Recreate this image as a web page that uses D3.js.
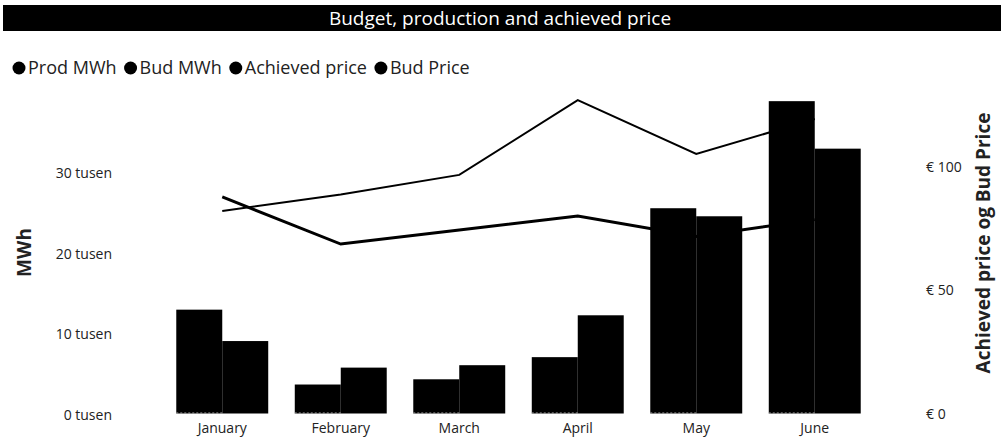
<!DOCTYPE html>
<html>
<head>
<meta charset="utf-8">
<script src="https://cdn.jsdelivr.net/npm/d3@7"></script>
<style>
  body { margin: 0; background: #fff; }
  svg text { font-family: "Segoe UI", "Open Sans", sans-serif; fill: #222; }
</style>
</head>
<body>
<div id="chart"></div>
<script>
// data
const months = ["January", "February", "March", "April", "May", "June"];
const prodMWh = [12900, 3600, 4250, 7000, 25500, 38800];
const budMWh = [9000, 5700, 6000, 12200, 24500, 32900];
const achievedPrice = [82.2, 88.9, 96.8, 127.1, 105.3, 119.4];
const budPrice = [87.9, 68.8, 74.5, 80.2, 71.9, 78.7];
const leftTicks = [0, 10000, 20000, 30000];
const rightTicks = [0, 50, 100];
const legendNames = ["Prod MWh", "Bud MWh", "Achieved price", "Bud Price"];

const width = 1001;
const height = 443;

const svg = d3.select("#chart").append("svg")
    .attr("width", width)
    .attr("height", height);

//----------------------------TITLE------------------------------//
svg.append("rect")
    .attr("x", 3).attr("y", 5)
    .attr("width", width - 3).attr("height", 26)
    .attr("fill", "#000");
svg.append("text")
    .attr("x", 500).attr("y", 18)
    .attr("dy", "0.35em")
    .attr("text-anchor", "middle")
    .style("font-size", "19px")
    .style("fill", "#fff")
    .text("Budget, production and achieved price");

//----------------------------LEGEND-----------------------------//
const legend = svg.append("g").attr("transform", "translate(0,68)");
let lx = 12;
legendNames.forEach(function(name) {
    legend.append("circle")
        .attr("cx", lx + 7).attr("cy", 0).attr("r", 6.5)
        .attr("fill", "#000");
    const t = legend.append("text")
        .attr("x", lx + 16).attr("y", 0)
        .attr("dy", "0.35em")
        .style("font-size", "18px")
        .text(name);
    lx += 16 + t.node().getComputedTextLength() + 7;
});

//----------------------------SCALES-----------------------------//
const xScale = d3.scaleBand()
    .domain(months)
    .range([163, 874])
    .paddingInner(0.224)
    .paddingOuter(0.112);
const xSub = d3.scaleBand()
    .domain(["prod", "bud"])
    .range([0, xScale.bandwidth()]);
const yLeft = d3.scaleLinear().domain([0, 40000]).range([413.5, 91.5]);
const yRight = d3.scaleLinear().domain([0, 130]).range([414, 92.9]);

//-----------------------------AXES------------------------------//
const leftAxis = svg.append("g")
    .attr("transform", "translate(112,1.5)")
    .call(d3.axisLeft(yLeft).tickValues(leftTicks).tickSize(0).tickPadding(0)
        .tickFormat(d => (d / 1000) + " tusen"));
const rightAxis = svg.append("g")
    .attr("transform", "translate(926,0)")
    .call(d3.axisRight(yRight).tickValues(rightTicks).tickSize(0).tickPadding(0)
        .tickFormat(d => "€ " + d));
[leftAxis, rightAxis].forEach(function(a) {
    a.select(".domain").remove();
    a.selectAll("text").style("font-size", "14px").style("font-family", null);
});

const xAxis = svg.append("g")
    .attr("transform", "translate(0,423)")
    .call(d3.axisBottom(xScale).tickSize(0).tickPadding(0));
xAxis.select(".domain").remove();
xAxis.selectAll("text").style("font-size", "14px").style("font-family", null);

svg.append("text")
    .attr("transform", "translate(24," + yLeft(20000) + ") rotate(-90)")
    .attr("text-anchor", "middle")
    .attr("dy", "0.35em")
    .style("font-size", "19px")
    .style("font-weight", "bold")
    .text("MWh");
svg.append("text")
    .attr("transform", "translate(983,243) rotate(-90)")
    .attr("text-anchor", "middle")
    .attr("dy", "0.35em")
    .style("font-size", "19px")
    .style("font-weight", "bold")
    .text("Achieved price og Bud Price");

//----------------------------BARS-------------------------------//
const groups = svg.append("g").selectAll("g")
    .data(months)
    .join("g")
    .attr("transform", d => "translate(" + xScale(d) + ",0)");
groups.append("rect")
    .attr("x", xSub("prod"))
    .attr("y", (d, i) => yLeft(prodMWh[i]))
    .attr("width", xSub.bandwidth())
    .attr("height", (d, i) => yLeft(0) - yLeft(prodMWh[i]))
    .attr("fill", "#000");
groups.append("rect")
    .attr("x", xSub("bud"))
    .attr("y", (d, i) => yLeft(budMWh[i]))
    .attr("width", xSub.bandwidth())
    .attr("height", (d, i) => yLeft(0) - yLeft(budMWh[i]))
    .attr("fill", "#000");
// faint dotted edge along the base of the prod bars
groups.append("line")
    .attr("x1", xSub("prod"))
    .attr("x2", xSub("prod") + xSub.bandwidth())
    .attr("y1", yLeft(0) - 0.5)
    .attr("y2", yLeft(0) - 0.5)
    .attr("stroke", "#aaa")
    .attr("stroke-width", 1)
    .attr("stroke-dasharray", "2,2");

//----------------------------LINES------------------------------//
const line = d3.line()
    .x((d, i) => xScale(months[i]) + xScale.bandwidth() / 2)
    .y(d => yRight(d));
svg.append("path")
    .datum(achievedPrice)
    .attr("fill", "none")
    .attr("stroke", "#000")
    .attr("stroke-width", 2)
    .attr("d", line);
svg.append("path")
    .datum(budPrice)
    .attr("fill", "none")
    .attr("stroke", "#000")
    .attr("stroke-width", 3)
    .attr("d", line);
</script>
</body>
</html>
